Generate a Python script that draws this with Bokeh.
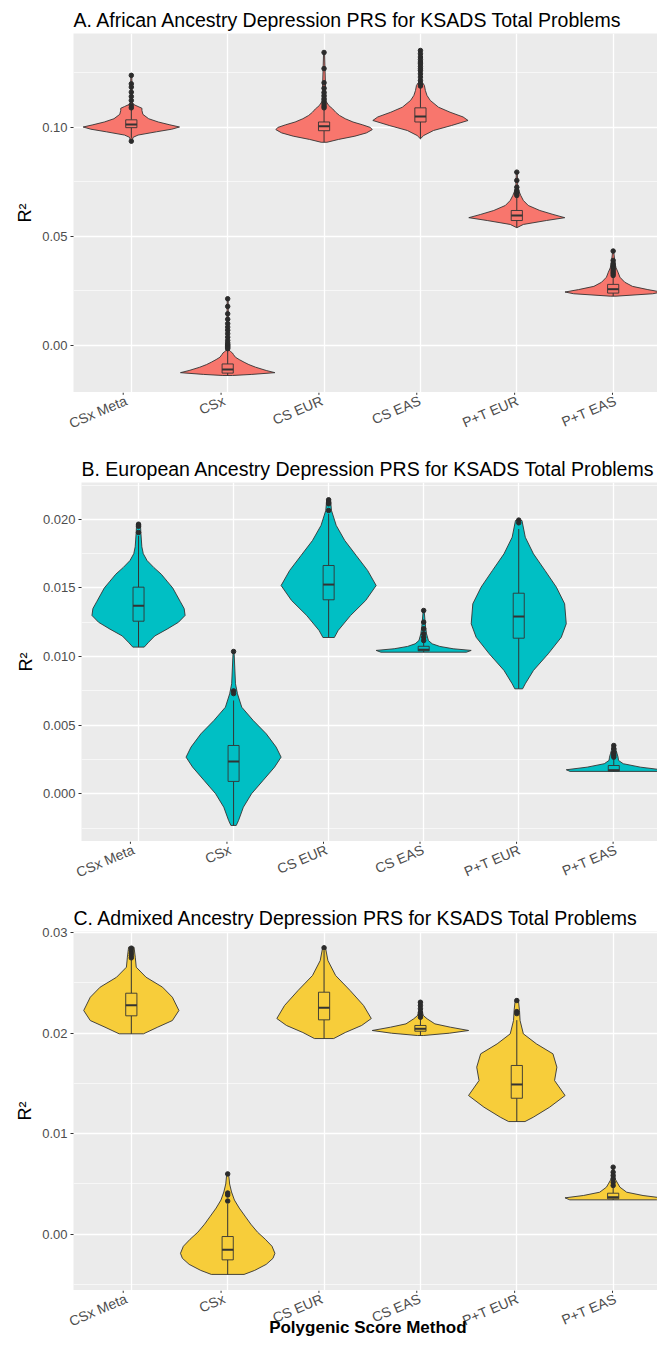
from bokeh.plotting import figure
from bokeh.layouts import column, row
from bokeh.models import FixedTicker, PrintfTickFormatter, Range1d, Spacer
from bokeh.core.properties import value
from bokeh.embed import file_html
from bokeh.resources import INLINE

CATS = ["CSx Meta", "CSx", "CS EUR", "CS EAS", "P+T EUR", "P+T EAS"]
X_TITLE = "Polygenic Score Method"

# ---------------- Panel A: African ancestry ----------------
A_title = "A. African Ancestry Depression PRS for KSADS Total Problems"
A_vy = [
    [0.0937, 0.0955, 0.0965, 0.0980, 0.0992, 0.1002, 0.1012, 0.1025, 0.1040, 0.1060, 0.1078, 0.1088, 0.1096, 0.1104, 0.1115, 0.1239],
    [-0.0138, -0.0133, -0.0125, -0.0115, -0.0100, -0.0088, -0.0077, -0.0065, -0.0054, -0.0042, -0.0035, -0.0028, -0.0020, 0.0214],
    [0.0932, 0.0945, 0.0960, 0.0975, 0.0990, 0.1000, 0.1012, 0.1025, 0.1040, 0.1055, 0.1070, 0.1085, 0.1100, 0.1120, 0.1344],
    [0.0948, 0.0963, 0.0986, 0.1009, 0.1032, 0.1048, 0.1070, 0.1093, 0.1124, 0.1147, 0.1170, 0.1193, 0.1208, 0.1223, 0.1353],
    [0.0540, 0.0555, 0.0573, 0.0586, 0.0601, 0.0619, 0.0642, 0.0665, 0.0688, 0.0711, 0.0726, 0.0795],
    [0.0226, 0.0237, 0.0245, 0.0256, 0.0271, 0.0290, 0.0313, 0.0336, 0.0356, 0.0375, 0.0433],
]
A_vw = [
    [0.004, 0.02, 0.07, 0.26, 0.42, 0.50, 0.40, 0.28, 0.18, 0.12, 0.11, 0.11, 0.07, 0.03, 0.01, 0.005],
    [0.05, 0.25, 0.49, 0.40, 0.29, 0.22, 0.17, 0.12, 0.08, 0.06, 0.05, 0.03, 0.01, 0.005],
    [0.03, 0.15, 0.32, 0.44, 0.50, 0.48, 0.40, 0.30, 0.22, 0.16, 0.12, 0.09, 0.05, 0.02, 0.005],
    [0.0, 0.034, 0.136, 0.324, 0.494, 0.443, 0.307, 0.187, 0.102, 0.068, 0.051, 0.041, 0.017, 0.010, 0.005],
    [0.0, 0.068, 0.307, 0.498, 0.375, 0.239, 0.119, 0.068, 0.041, 0.020, 0.010, 0.005],
    [0.03, 0.41, 0.50, 0.36, 0.20, 0.12, 0.07, 0.05, 0.03, 0.02, 0.005],
]
A_lo = [0.0952, -0.0138, 0.0932, 0.0948, 0.0540, 0.0226]
A_q1 = [0.0999, -0.0127, 0.0985, 0.1025, 0.0573, 0.0240]
A_med = [0.1014, -0.0111, 0.1005, 0.1050, 0.0596, 0.0258]
A_q3 = [0.1035, -0.0085, 0.1025, 0.1090, 0.0619, 0.0280]
A_hi = [0.1088, -0.0022, 0.1085, 0.1185, 0.0680, 0.0318]
A_out_cat = [1] * 9 + [2] * 16 + [3] * 11 + [4] * 14 + [5] * 7 + [6] * 10
A_out_val = [0.0937, 0.1239, 0.1200, 0.1185, 0.1162, 0.1142, 0.1124, 0.1101, 0.1090,
             0.0214, 0.0179, 0.0145, 0.0120, 0.0100, 0.0084, 0.0070, 0.0054, 0.0038, 0.0023, 0.0012, 0.0005, 0.0, -0.0005, -0.0010, -0.0015,
             0.1344, 0.1270, 0.1205, 0.1180, 0.1160, 0.1145, 0.1130, 0.1118, 0.1108, 0.1098, 0.1090,
             0.1353, 0.1338, 0.1323, 0.1311, 0.1300, 0.1292, 0.1280, 0.1269, 0.1261, 0.1246, 0.1231, 0.1215, 0.1200, 0.1190,
             0.0795, 0.0757, 0.0726, 0.0711, 0.0703, 0.0696, 0.0688,
             0.0433, 0.0390, 0.0375, 0.0367, 0.0359, 0.0352, 0.0344, 0.0336, 0.0329, 0.0321]
A_ticks = [0.00, 0.05, 0.10]
A_minor = [0.025, 0.075, 0.125]

# ---------------- Panel B: European ancestry ----------------
B_title = "B. European Ancestry Depression PRS for KSADS Total Problems"
B_vy = [
    [0.01069, 0.01100, 0.01150, 0.01200, 0.01250, 0.01300, 0.01350, 0.01400, 0.01450, 0.01500, 0.01550, 0.01600, 0.01650, 0.01700, 0.01750, 0.01800, 0.01850, 0.01900, 0.01968],
    [-0.00231, -0.00195, -0.00098, 0.0, 0.00097, 0.00194, 0.00267, 0.00340, 0.00437, 0.00534, 0.00631, 0.00729, 0.00802, 0.01037],
    [0.01139, 0.01190, 0.01299, 0.01409, 0.01518, 0.01628, 0.01737, 0.01846, 0.01956, 0.02065, 0.02143],
    [0.01032, 0.01045, 0.01057, 0.01074, 0.01093, 0.01117, 0.01166, 0.01215, 0.01336],
    [0.00765, 0.00802, 0.00899, 0.01020, 0.01141, 0.01239, 0.01385, 0.01506, 0.01628, 0.01749, 0.01870, 0.01992],
    [0.00163, 0.00175, 0.00194, 0.00219, 0.00243, 0.00267, 0.00292, 0.00316, 0.00352],
]
B_vw = [
    [0.06, 0.10, 0.17, 0.30, 0.42, 0.49, 0.48, 0.44, 0.40, 0.36, 0.30, 0.24, 0.16, 0.09, 0.05, 0.035, 0.03, 0.025, 0.02],
    [0.028, 0.052, 0.103, 0.189, 0.310, 0.431, 0.500, 0.448, 0.344, 0.207, 0.086, 0.041, 0.02, 0.005],
    [0.06, 0.10, 0.23, 0.39, 0.50, 0.41, 0.29, 0.17, 0.08, 0.03, 0.02],
    [0.45, 0.50, 0.31, 0.17, 0.09, 0.05, 0.03, 0.02, 0.005],
    [0.041, 0.069, 0.155, 0.310, 0.448, 0.500, 0.483, 0.396, 0.276, 0.155, 0.069, 0.034],
    [0.46, 0.50, 0.28, 0.10, 0.05, 0.045, 0.035, 0.025, 0.015],
]
B_lo = [0.01069, -0.00231, 0.01139, 0.01032, 0.00765, 0.00163]
B_q1 = [0.01258, 0.00090, 0.01414, 0.01042, 0.01134, 0.00165]
B_med = [0.01370, 0.00235, 0.01525, 0.01050, 0.01292, 0.00172]
B_q3 = [0.01506, 0.00352, 0.01664, 0.01075, 0.01462, 0.00206]
B_hi = [0.01880, 0.00680, 0.02040, 0.01110, 0.01930, 0.00250]
B_out_cat = [1] * 4 + [2] * 3 + [3] * 4 + [4] * 6 + [5] * 2 + [6] * 6
B_out_val = [0.01965, 0.01958, 0.01950, 0.01905,
             0.01037, 0.00750, 0.00730,
             0.02143, 0.02125, 0.02114, 0.02065,
             0.01336, 0.01251, 0.01203, 0.01166, 0.01141, 0.01117,
             0.01995, 0.01975,
             0.00352, 0.00328, 0.00303, 0.00292, 0.00279, 0.00267]
B_ticks = [0.000, 0.005, 0.010, 0.015, 0.020]
B_minor = [-0.0025, 0.0025, 0.0075, 0.0125, 0.0175, 0.0225]

# ---------------- Panel C: Admixed ancestry ----------------
C_title = "C. Admixed Ancestry Depression PRS for KSADS Total Problems"
C_vy = [
    [0.01994, 0.02060, 0.02126, 0.02226, 0.02358, 0.02458, 0.02557, 0.02657, 0.02756, 0.02856],
    [-0.0040, -0.0036, -0.0030, -0.0024, -0.0019, -0.0012, -0.0005, 0.0002, 0.0010, 0.0018, 0.0026, 0.0034, 0.0042, 0.0050, 0.0060],
    [0.01947, 0.02007, 0.02077, 0.02146, 0.02276, 0.02425, 0.02574, 0.02723, 0.02850],
    [0.01977, 0.02000, 0.02027, 0.02060, 0.02093, 0.02143, 0.02176, 0.02230, 0.02308],
    [0.01121, 0.01164, 0.01264, 0.01380, 0.01529, 0.01662, 0.01795, 0.01894, 0.01994, 0.02126, 0.02226, 0.02325],
    [0.00342, 0.00362, 0.00385, 0.00418, 0.00468, 0.00501, 0.00551, 0.00667],
]
C_vw = [
    [0.126, 0.273, 0.426, 0.494, 0.426, 0.324, 0.153, 0.051, 0.041, 0.028],
    [0.17, 0.28, 0.40, 0.47, 0.49, 0.46, 0.39, 0.31, 0.24, 0.18, 0.12, 0.07, 0.04, 0.02, 0.01],
    [0.10, 0.22, 0.39, 0.49, 0.41, 0.27, 0.12, 0.04, 0.015],
    [0.03, 0.30, 0.50, 0.31, 0.15, 0.07, 0.03, 0.015, 0.005],
    [0.085, 0.171, 0.341, 0.501, 0.392, 0.416, 0.375, 0.204, 0.068, 0.034, 0.028, 0.017],
    [0.45, 0.50, 0.31, 0.14, 0.07, 0.05, 0.02, 0.005],
]
C_lo = [0.01994, -0.0040, 0.01947, 0.01977, 0.01121, 0.00342]
C_q1 = [0.02173, -0.00255, 0.02133, 0.02020, 0.01353, 0.00352]
C_med = [0.02279, -0.00155, 0.02253, 0.02044, 0.01490, 0.00368]
C_q3 = [0.02398, -0.00023, 0.02408, 0.02077, 0.01679, 0.00408]
C_hi = [0.02740, 0.00300, 0.02820, 0.02150, 0.02130, 0.00460]
C_out_cat = [1] * 5 + [2] * 4 + [3] * 1 + [4] * 6 + [5] * 3 + [6] * 6
C_out_val = [0.02846, 0.02823, 0.02796, 0.02773, 0.02750,
             0.0060, 0.0041, 0.0039, 0.0033,
             0.02850,
             0.02308, 0.02276, 0.02243, 0.02209, 0.02176, 0.02159,
             0.02325, 0.02215, 0.02195,
             0.00667, 0.00617, 0.00584, 0.00551, 0.00517, 0.00485]
C_ticks = [0.00, 0.01, 0.02, 0.03]
C_minor = [-0.005, 0.005, 0.015, 0.025]

FONT = "Liberation Sans"
BOX_HALF = 0.058
PAGE_W = 657
X_START = 0.4
X_END = 6.46
TITLE_H = 21      # band bokeh gives a 19.5px title with standoff 5
FRAME_H = 359
BOTTOM_PAD = 8    # bottom band bokeh leaves under every frame
AXIS_W_NARROW = 52  # width bokeh needs for the "0.00" style y axis
AXIS_W_WIDE = 60    # width bokeh needs for the "0.000" style y axis


def main_panel(title, vy, vw, lo, q1, med, q3, hi, out_cat, out_val, ticks, minor, yfmt,
               yrange, fill, frame_left):
    axis_w = AXIS_W_WIDE if yfmt == "%.3f" else AXIS_W_NARROW
    pad = frame_left - axis_w
    p = figure(width=PAGE_W - pad, height=TITLE_H + FRAME_H + BOTTOM_PAD,
               x_range=Range1d(X_START, X_END), y_range=Range1d(*yrange),
               output_backend="svg", toolbar_location=None,
               title=title, x_axis_location=None, frame_align=False,
               min_border_left=0, min_border_right=0, min_border_top=0, min_border_bottom=0)
    p.background_fill_color = "#EBEBEB"
    p.border_fill_color = "white"
    p.outline_line_color = None
    p.title.text_font = FONT
    p.title.text_font_size = "19.5px"
    p.title.text_font_style = "normal"
    p.title.text_color = "black"
    p.title.standoff = 5
    p.title.align = "left"

    p.xgrid.ticker = FixedTicker(ticks=list(range(1, len(CATS) + 1)))
    p.xgrid.grid_line_color = "white"
    p.xgrid.grid_line_width = 1.3
    p.ygrid.ticker = FixedTicker(ticks=ticks, minor_ticks=minor)
    p.ygrid.grid_line_color = "white"
    p.ygrid.grid_line_width = 1.3
    p.ygrid.minor_grid_line_color = "white"
    p.ygrid.minor_grid_line_width = 0.6

    ax = p.yaxis[0]
    ax.ticker = FixedTicker(ticks=ticks)
    ax.formatter = PrintfTickFormatter(format=yfmt)
    ax.axis_line_color = None
    ax.major_tick_line_color = "#333333"
    ax.major_tick_out = 3
    ax.major_tick_in = 0
    ax.minor_tick_line_color = None
    ax.major_label_text_font = FONT
    ax.major_label_text_color = "#4D4D4D"
    ax.major_label_text_font_size = "13px"
    ax.major_label_standoff = 3
    ax.axis_label = "R²"
    ax.axis_label_text_font = FONT
    ax.axis_label_text_font_size = "18px"
    ax.axis_label_text_font_style = "normal"
    ax.axis_label_text_color = "black"
    ax.axis_label_standoff = 4

    xs, ys = [], []
    for i, (yy, ww) in enumerate(zip(vy, vw)):
        c = i + 1
        xs.append([c + w for w in ww] + [c - w for w in reversed(ww)])
        ys.append(list(yy) + list(reversed(yy)))
    p.patches(xs, ys, fill_color=fill, line_color="#333333", line_width=0.9)

    cx = [i + 1 for i in range(len(CATS))]
    p.segment(cx, q3, cx, hi, line_color="#333333", line_width=1)
    p.segment(cx, lo, cx, q1, line_color="#333333", line_width=1)
    p.quad(left=[c - BOX_HALF for c in cx], right=[c + BOX_HALF for c in cx], bottom=q1, top=q3,
           fill_color=fill, line_color="#333333", line_width=0.9)
    p.segment([c - BOX_HALF for c in cx], med, [c + BOX_HALF for c in cx], med,
              line_color="#333333", line_width=2)
    p.scatter(out_cat, out_val, size=4.5, fill_color="#2B2B2B", line_color="#2B2B2B")
    if pad > 0:
        return row(Spacer(width=pad, height=10), p, spacing=0)
    return p


def label_strip(frame_left, height, with_title):
    # same x scale as the panel above, extended to the page's left edge;
    # y in pixels below the strip top (its frame is height - BOTTOM_PAD tall)
    ppu = (PAGE_W - frame_left) / (X_END - X_START)
    x0 = X_START - frame_left / ppu
    inner = height - BOTTOM_PAD
    s = figure(width=PAGE_W, height=height, x_range=Range1d(x0, X_END),
               y_range=Range1d(-inner, 0),
               output_backend="svg", toolbar_location=None, x_axis_location=None,
               y_axis_location=None, frame_align=False, outline_line_color=None,
               min_border_left=0, min_border_right=0, min_border_top=0, min_border_bottom=0)
    s.grid.visible = False
    s.background_fill_color = "white"
    s.border_fill_color = "white"
    cx = [i + 1 for i in range(len(CATS))]
    s.segment(cx, [0] * len(cx), cx, [-2] * len(cx), line_color="#333333", line_width=1)
    s.text(cx, [0] * len(cx), text=CATS, angle=0.40, text_align="right", text_baseline="top",
           text_font=value(FONT), text_font_size="14px", text_color="#4D4D4D")
    if with_title:
        s.text([(X_START + 6.6) / 2], [-31], text=[X_TITLE], text_align="center",
               text_baseline="middle", text_font=value(FONT), text_font_size="17px",
               text_font_style="bold", text_color="black")
    return s


pA = main_panel(A_title, A_vy, A_vw, A_lo, A_q1, A_med, A_q3, A_hi, A_out_cat, A_out_val,
                A_ticks, A_minor, "%.2f", (-0.0216, 0.1431), "#F8766D", 64)
pB = main_panel(B_title, B_vy, B_vw, B_lo, B_q1, B_med, B_q3, B_hi, B_out_cat, B_out_val,
                B_ticks, B_minor, "%.3f", (-0.00348, 0.02269), "#00BFC4", 72)
pC = main_panel(C_title, C_vy, C_vw, C_lo, C_q1, C_med, C_q3, C_hi, C_out_cat, C_out_val,
                C_ticks, C_minor, "%.2f", (-0.0056, 0.03012), "#F7CD3A", 64)

sA = label_strip(64, 57, False)
sB = label_strip(72, 57, False)
sC = label_strip(64, 49, True)

layout = column(Spacer(width=PAGE_W, height=4), pA, sA,
                Spacer(width=PAGE_W, height=4), pB, sB,
                Spacer(width=PAGE_W, height=4), pC, sC, spacing=0)
open("out.html", "w").write(file_html(layout, INLINE))
